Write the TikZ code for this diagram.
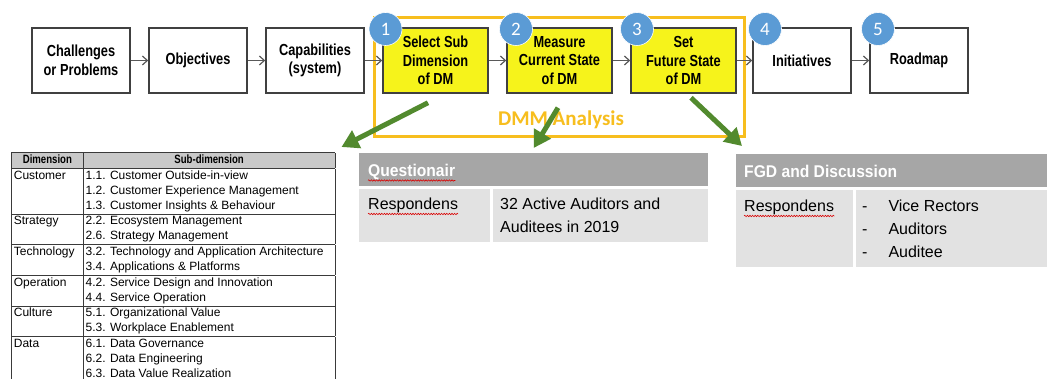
\documentclass[tikz,border=0pt]{standalone}
\usepackage{fontspec}
\setmainfont{Liberation Sans}
\newfontfamily\narrowfont{Liberation Sans}[FakeStretch=0.8]
\newfontfamily\headfont{Liberation Sans}[FakeStretch=0.92]
\newfontfamily\calfont{Carlito}
\usepackage{xcolor}
\usepackage{colortbl}
\definecolor{boxline}{HTML}{404040}
\definecolor{flowgray}{HTML}{595959}
\definecolor{dmyellow}{HTML}{F6F31B}
\definecolor{circblue}{HTML}{5B9BD5}
\definecolor{dmmorange}{HTML}{F7BE1E}
\definecolor{pointgreen}{HTML}{528A2E}
\definecolor{hdgray}{HTML}{A6A6A6}
\definecolor{cellgray}{HTML}{E2E2E2}
\definecolor{tabhead}{HTML}{C9C9C9}
\definecolor{tabline}{HTML}{3A3A3A}
\newcommand\thfont{\narrowfont\bfseries}
\usetikzlibrary{arrows.meta,positioning,calc,decorations.pathmorphing}

\begin{document}
\begin{tikzpicture}[
        x=1pt, y=-1pt,
        node distance=17.5pt,
        stepbox/.style = {draw=boxline, line width=1.5pt, fill=white,
                          minimum width=98pt, minimum height=65pt, inner sep=2pt,
                          align=center, font=\narrowfont\bfseries\fontsize{16}{18.5}\selectfont},
        dmbox/.style   = {stepbox, fill=dmyellow, minimum width=105pt},
        numcirc/.style = {circle, fill=circblue, draw=white, line width=0.6pt,
                          minimum size=33pt, inner sep=0pt, text=white,
                          font=\calfont\fontsize{19}{19}\selectfont},
        dmmframe/.style= {draw=dmmorange, line width=3pt, minimum width=370pt,
                          minimum height=119pt, inner sep=0pt},
        flow/.style    = {-{Straight Barb[length=5pt, width=9pt]}, flowgray, line width=1.2pt},
        pointer/.style = {-{Triangle[length=17pt, width=19pt]}, pointgreen, line width=5pt},
        hdcell/.style  = {fill=hdgray, inner sep=0pt, anchor=north west},
        bodycell/.style= {fill=cellgray, inner sep=0pt, anchor=north west},
        hdtext/.style  = {text=white, inner sep=0pt, anchor=base west,
                          font=\headfont\bfseries\fontsize{17}{17}\selectfont},
        bodytext/.style= {inner sep=0pt, anchor=base west, font=\fontsize{16}{23}\selectfont},
        squiggle/.style= {red!85!black, line width=0.6pt, decorate,
                          decoration={snake, amplitude=0.7pt, segment length=2.6pt}}
    ]
        \path[use as bounding box, fill=white] (0,0) rectangle (1047,379);

        % ---- DMM frame ----
        \node[dmmframe] (dmm) at (559,77.5) {};
        \node[text=dmmorange, font=\calfont\bfseries\fontsize{21}{21}\selectfont] (dmmlabel) at (561,120) {DMM Analysis};

        % ---- Steps ----
        \node[stepbox] (chal) at (81,60.5) {Challenges\\or Problems};
        \node[stepbox, right=of chal] (obj) {Objectives};
        \node[stepbox, right=of obj] (cap) {Capabilities\\(system)};
        \node[dmbox, right=of cap] (sel) {Select Sub\\Dimension\\of DM};
        \node[dmbox, right=of sel] (mea) {Measure\\Current State\\of DM};
        \node[dmbox, right=of mea] (fut) {Set\\Future State\\of DM};
        \node[stepbox, right=15.5pt of fut] (ini) {Initiatives};
        \node[stepbox, right=of ini] (road) {Roadmap};

        \draw[flow] (chal) -- (obj);
        \draw[flow] (obj) -- (cap);
        \draw[flow] (cap) -- (sel);
        \draw[flow] (sel) -- (mea);
        \draw[flow] (mea) -- (fut);
        \draw[flow] (fut) -- (ini);
        \draw[flow] (ini) -- (road);

        % ---- Numbers ----
        \node[numcirc] (n1) at (385.5,29) {1};
        \node[numcirc] (n2) at (516,29) {2};
        \node[numcirc] (n3) at (637,29) {3};
        \node[numcirc] (n4) at (765,29) {4};
        \node[numcirc] (n5) at (878,29) {5};

        % ---- Sub-dimension table ----
        \node[anchor=north west, inner sep=0pt, font=\fontsize{12}{15}\selectfont] (subtab) at (11,152) {%
            \setlength{\tabcolsep}{2pt}\setlength{\arrayrulewidth}{0.7pt}\arrayrulecolor{tabline}%
            \begin{tabular}{|p{67pt}|p{247pt}|}
                \hline
                \rowcolor{tabhead}\multicolumn{1}{|c|}{\thfont Dimension} & \multicolumn{1}{c|}{\thfont Sub-dimension}\\ \hline
                Customer   & 1.1. Customer Outside-in-view \\
                           & 1.2. Customer Experience Management \\
                           & 1.3. Customer Insights \& Behaviour \\ \hline
                Strategy   & 2.2. Ecosystem Management \\
                           & 2.6. Strategy Management \\ \hline
                Technology & 3.2. Technology and Application Architecture \\
                           & 3.4. Applications \& Platforms \\ \hline
                Operation  & 4.2. Service Design and Innovation \\
                           & 4.4. Service Operation \\ \hline
                Culture    & 5.1. Organizational Value \\
                           & 5.3. Workplace Enablement \\ \hline
                Data       & 6.1. Data Governance \\
                           & 6.2. Data Engineering \\
                           & 6.3. Data Value Realization \\
            \end{tabular}};

        % ---- Questionair ----
        \node[hdcell, minimum width=349pt, minimum height=33pt] (qhead) at (359,153) {};
        \node[bodycell, minimum width=131pt, minimum height=53pt] (qlab) at (359,189) {};
        \node[bodycell, minimum width=215pt, minimum height=53pt] (qval) at (493,189) {};
        \node[hdtext] (qtitle) at ($(qhead.north west)+(9,24)$) {Questionair};
        \node[bodytext] (qresp) at ($(qlab.north west)+(9,21)$) {Respondens};
        \node[bodytext] (qcount) at ($(qval.north west)+(7,21)$)
            {\begin{tabular}[t]{@{}l@{}}32 Active Auditors and\\Auditees in 2019\end{tabular}};
        \draw[squiggle] ([yshift=-3.5pt]qtitle.base west) -- ([yshift=-3.5pt]qtitle.base east);
        \draw[squiggle] ([yshift=-4pt]qresp.base west) -- ([yshift=-4pt]qresp.base east);

        % ---- FGD ----
        \node[hdcell, minimum width=311pt, minimum height=33pt] (fhead) at (736,154) {};
        \node[bodycell, minimum width=117pt, minimum height=77pt] (flab) at (736,190) {};
        \node[bodycell, minimum width=191pt, minimum height=77pt] (fval) at (856,190) {};
        \node[hdtext] (ftitle) at ($(fhead.north west)+(8,23.5)$) {FGD and Discussion};
        \node[bodytext] (fresp) at ($(flab.north west)+(8,22)$) {Respondens};
        \node[bodytext] (fitems) at ($(fval.north west)+(6,22)$)
            {\begin{tabular}[t]{@{}l@{\hspace{21pt}}l@{}}-&Vice Rectors\\-&Auditors\\-&Auditee\end{tabular}};
        \draw[squiggle] ([yshift=-4pt]fresp.base west) -- ([yshift=-4pt]fresp.base east);

        % ---- Pointers ----
        \draw[pointer] ($(sel.south)+(-7.5,9)$) -- ($(subtab.north east)+(6,-5)$);
        \draw[pointer] ($(mea.south)+(-1.5,14)$) -- ($(qhead.north)+(0,-5)$);
        \draw[pointer] ($(fut.south)+(7.5,4)$) -- ($(fhead.north west)+(6,-8)$);
    \end{tikzpicture}
\end{document}
